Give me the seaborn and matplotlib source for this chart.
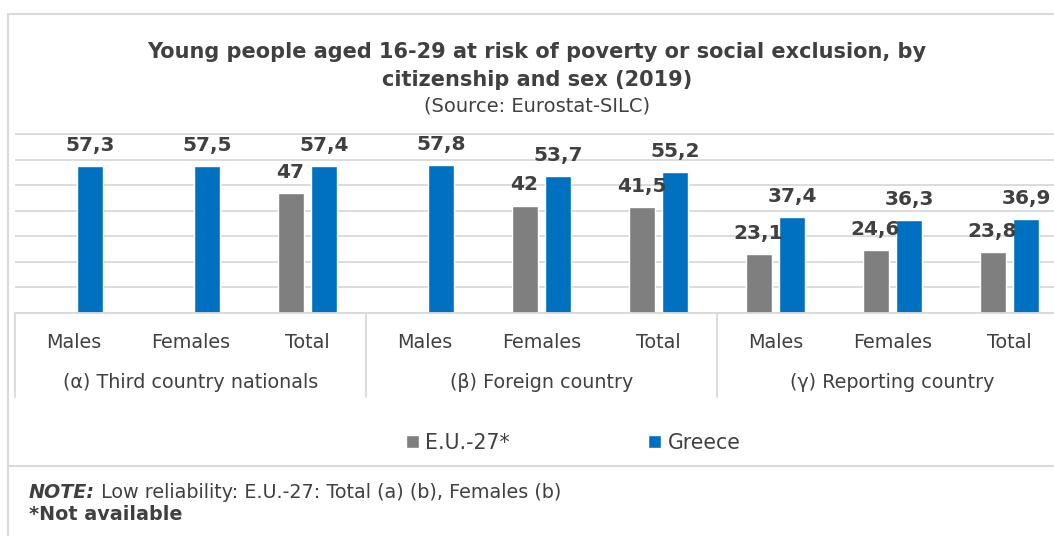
import numpy as np
import pandas as pd
import matplotlib
matplotlib.use('Agg')
import matplotlib.pyplot as plt
from matplotlib.lines import Line2D
import seaborn as sns

# data
groups = ['(α) Third country nationals', '(β) Foreign country', '(γ) Reporting country']
sexes = ['Males', 'Females', 'Total']
series = ['E.U.-27*', 'Greece']
eu27 = [np.nan, np.nan, 47, np.nan, 42, 41.5, 23.1, 24.6, 23.8]
greece = [57.3, 57.5, 57.4, 57.8, 53.7, 55.2, 37.4, 36.3, 36.9]

GRAY = '#7F7F7F'
BLUE = '#0070C0'
TXT = '#404040'
LINE = '#D9D9D9'
W, H = 1054, 536

keys = [g + '|' + s for g in groups for s in sexes]
df = pd.DataFrame({
    'key': keys * 2,
    'series': [series[0]] * 9 + [series[1]] * 9,
    'value': eu27 + greece,
}).dropna()

sns.set_style('white')
plt.rcParams['font.family'] = ['DejaVu Sans']

fig = plt.figure(figsize=(W / 100, H / 100), dpi=100)
ppu = (313 - 134) / 70.0
top_px = 313 - 71 * ppu
ax = fig.add_axes([15 / W, 1 - 313 / H, (1068 - 15) / W, (313 - top_px) / H])

sns.barplot(data=df, x='key', y='value', hue='series', order=keys, hue_order=series,
            palette=[GRAY, BLUE], width=0.58, gap=0.234, saturation=1, ax=ax)

handles, labels = ax.get_legend_handles_labels()
if ax.legend_ is not None:
    ax.legend_.remove()

ax.set_ylim(0, 71)
ax.set_xlim(-0.5, 8.5)
ax.set_yticks(range(0, 71, 10))
ax.set_yticklabels([])
ax.yaxis.grid(True, color=LINE, lw=1.3)
ax.set_axisbelow(True)
ax.tick_params(axis='both', length=0)
for sp in ['top', 'right', 'left']:
    ax.spines[sp].set_visible(False)
ax.spines['bottom'].set_color(LINE)
ax.spines['bottom'].set_linewidth(1.3)
ax.set_xlabel('')
ax.set_ylabel('')
ax.set_xticks(range(9))
ax.set_xticklabels([])

# value labels
for cont in ax.containers:
    labs = [f'{v:g}'.replace('.', ',') for v in cont.datavalues]
    ax.bar_label(cont, labels=labs, padding=8, fontsize=14.5, fontweight='bold', color=TXT)

# category labels and group labels
trans = ax.get_xaxis_transform()
hax = 313 - top_px
for i, k in enumerate(keys):
    ax.text(i, -(342 - 313) / hax, k.split('|')[1], transform=trans, ha='center', va='center',
            fontsize=13.8, color=TXT)
for j, g in enumerate(groups):
    ax.text(3 * j + 1, -(383 - 313) / hax, g, transform=trans, ha='center', va='center',
            fontsize=13.8, color=TXT)
for xb in [-0.5, 2.5, 5.5, 8.5]:
    ax.plot([xb, xb], [0, -(397 - 313) / hax], transform=trans, clip_on=False, color=LINE, lw=1.3)

# titles
cx = 537 / W
fig.text(cx, 1 - 52 / H, 'Young people aged 16-29 at risk of poverty or social exclusion, by',
         ha='center', va='center', fontsize=15, fontweight='bold', color=TXT)
fig.text(cx, 1 - 80 / H, 'citizenship and sex (2019)',
         ha='center', va='center', fontsize=15, fontweight='bold', color=TXT)
fig.text(cx, 1 - 106 / H, '(Source: Eurostat-SILC)',
         ha='center', va='center', fontsize=14, color=TXT)

# legend
fig.legend(handles, labels, loc='center left', bbox_to_anchor=(406 / W, 1 - 443 / H), ncol=2,
           frameon=False, borderpad=0, borderaxespad=0, handlelength=0.63, handleheight=0.63,
           handletextpad=0.3, columnspacing=6.75, fontsize=14.8, labelcolor=TXT)

# frame lines
fig.add_artist(Line2D([8 / W, 8 / W], [0, 1 - 14 / H], transform=fig.transFigure, color=LINE, lw=1.5))
fig.add_artist(Line2D([8 / W, 1], [1 - 14 / H, 1 - 14 / H], transform=fig.transFigure, color=LINE, lw=1.5))
fig.add_artist(Line2D([8 / W, 1], [1 - 466 / H, 1 - 466 / H], transform=fig.transFigure, color=LINE, lw=1.5))

# note
t1 = fig.text(29 / W, 1 - 492 / H, 'NOTE:', ha='left', va='center', fontsize=13.8,
              fontweight='bold', fontstyle='italic', color=TXT)
fig.canvas.draw()
bb = t1.get_window_extent()
fig.text(bb.x1 / W, 1 - 492 / H, ' Low reliability: E.U.-27: Total (a) (b), Females (b)',
         ha='left', va='center', fontsize=13.8, color=TXT)
fig.text(29 / W, 1 - 515 / H, '*Not available', ha='left', va='center', fontsize=13.8,
         fontweight='bold', color=TXT)

fig.savefig('out.png', dpi=100)
